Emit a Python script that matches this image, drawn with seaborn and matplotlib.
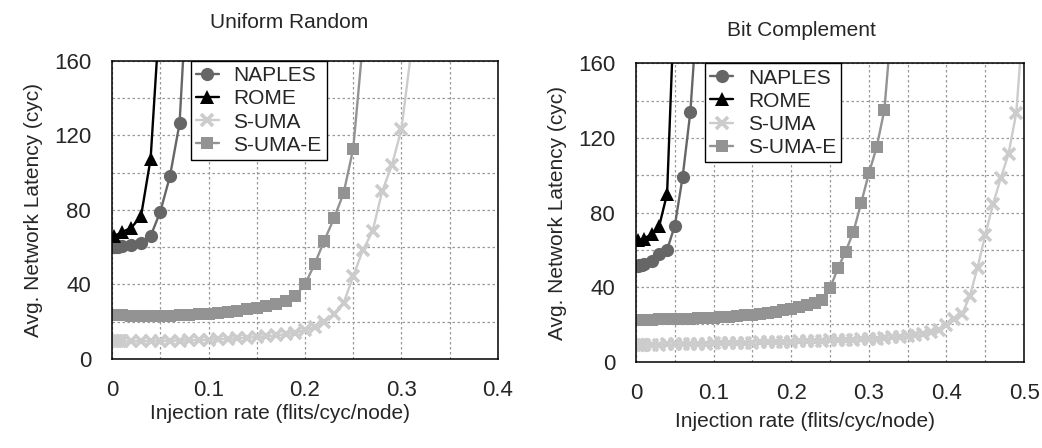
import matplotlib
matplotlib.use("Agg")
import matplotlib.pyplot as plt
import seaborn as sns

sns.set_style("white")
plt.rcParams['font.family'] = ['Liberation Sans', 'DejaVu Sans']

# injection rates (flits/cyc/node)
x_ur_naples = [0.001, 0.002, 0.004, 0.006, 0.008, 0.01, 0.02, 0.03, 0.04, 0.05, 0.06, 0.07, 0.08]
x_ur_rome = [0.002, 0.01, 0.02, 0.03, 0.04, 0.05]
x_ur_sumae = [0.001, 0.002, 0.004, 0.006, 0.008, 0.01, 0.02, 0.03, 0.04, 0.05, 0.06, 0.07, 0.08,
              0.09, 0.10, 0.11, 0.12, 0.13, 0.14, 0.15, 0.16, 0.17, 0.18, 0.19, 0.20, 0.21,
              0.22, 0.23, 0.24, 0.25, 0.26]
x_ur_suma = [0.001, 0.002, 0.004, 0.006, 0.008, 0.01, 0.02, 0.03, 0.04, 0.05, 0.06, 0.07, 0.08,
             0.09, 0.10, 0.11, 0.12, 0.13, 0.14, 0.15, 0.16, 0.17, 0.18, 0.19, 0.20, 0.21,
             0.22, 0.23, 0.24, 0.25, 0.26, 0.27, 0.28, 0.29, 0.30, 0.31]

# Uniform Random latencies (cyc)
ur_naples = [60.0, 60.0, 60.1, 60.2, 60.4, 60.6, 61.0, 62.5, 66.0, 79.0, 98.0, 126.5, 220.0]
ur_rome = [66.0, 68.0, 70.5, 76.5, 107.5, 190.0]
ur_sumae = [23.6, 23.6, 23.5, 23.5, 23.4, 23.4, 23.3, 23.2, 23.2, 23.2, 23.3, 23.4, 23.6,
            24.0, 24.4, 24.9, 25.4, 26.0, 26.6, 27.3, 28.2, 29.4, 31.0, 34.0, 40.0, 51.0,
            63.5, 75.5, 89.0, 113.0, 170.0]
ur_suma = [9.5, 9.5, 9.5, 9.5, 9.5, 9.5, 9.5, 9.6, 9.6, 9.7, 9.8, 9.9, 10.0,
           10.2, 10.4, 10.6, 10.8, 11.1, 11.4, 11.8, 12.2, 12.7, 13.3, 14.2, 15.4, 17.2,
           20.0, 24.0, 30.0, 44.5, 58.5, 68.5, 90.0, 104.0, 123.5, 165.0]

x_bc_naples = [0.001, 0.002, 0.004, 0.006, 0.008, 0.01, 0.02, 0.03, 0.04, 0.05, 0.06, 0.07, 0.08]
x_bc_rome = [0.002, 0.01, 0.02, 0.03, 0.04, 0.05]
x_bc_sumae = [0.001, 0.002, 0.004, 0.006, 0.008, 0.01, 0.02, 0.03, 0.04, 0.05, 0.06, 0.07, 0.08,
              0.09, 0.10, 0.11, 0.12, 0.13, 0.14, 0.15, 0.16, 0.17, 0.18, 0.19, 0.20, 0.21,
              0.22, 0.23, 0.24, 0.25, 0.26, 0.27, 0.28, 0.29, 0.30, 0.31, 0.32, 0.33]
x_bc_suma = [0.001, 0.002, 0.004, 0.006, 0.008, 0.01, 0.02, 0.03, 0.04, 0.05, 0.06, 0.07, 0.08,
             0.09, 0.10, 0.11, 0.12, 0.13, 0.14, 0.15, 0.16, 0.17, 0.18, 0.19, 0.20, 0.21,
             0.22, 0.23, 0.24, 0.25, 0.26, 0.27, 0.28, 0.29, 0.30, 0.31, 0.32, 0.33, 0.34,
             0.35, 0.36, 0.37, 0.38, 0.39, 0.40, 0.41, 0.42, 0.43, 0.44, 0.45, 0.46, 0.47,
             0.48, 0.49, 0.50]

# Bit Complement latencies (cyc)
bc_naples = [51.5, 51.5, 51.6, 51.8, 52.0, 52.3, 54.0, 57.5, 60.0, 73.0, 99.0, 134.0, 195.0]
bc_rome = [65.0, 66.0, 68.3, 73.0, 90.0, 200.0]
bc_sumae = [22.5, 22.5, 22.5, 22.5, 22.5, 22.5, 22.6, 22.7, 22.8, 22.9, 23.0, 23.1, 23.3,
            23.5, 23.7, 23.9, 24.1, 24.4, 24.8, 25.2, 25.7, 26.2, 26.8, 27.5, 28.3, 29.2,
            30.3, 31.7, 33.3, 39.5, 50.0, 59.0, 69.5, 85.0, 101.0, 115.0, 135.0, 185.0]
bc_suma = [9.0, 9.0, 9.0, 9.0, 9.0, 9.0, 9.1, 9.2, 9.3, 9.3, 9.4, 9.5, 9.6,
           9.7, 9.8, 9.9, 10.0, 10.1, 10.2, 10.3, 10.4, 10.5, 10.6, 10.7, 10.8, 10.9,
           11.0, 11.1, 11.2, 11.4, 11.5, 11.7, 11.8, 12.0, 12.2, 12.4, 12.7, 13.0, 13.3,
           13.7, 14.2, 14.8, 15.7, 17.2, 19.7, 22.7, 25.5, 35.0, 50.5, 68.0, 84.5, 98.5,
           111.5, 133.5, 190.0]

y_ticks = [0, 40, 80, 120, 160]

styles = {
    'NAPLES': dict(color='#666666', marker='o', markersize=9.5),
    'ROME': dict(color='black', marker='^', markersize=9.5),
    'S-UMA': dict(color='#cccccc', marker='x', markersize=8.5, markeredgewidth=2.6),
    'S-UMA-E': dict(color='#939393', marker='s', markersize=8.5),
}


def draw(ax, series, xmax, xticks, title, title_pad, title_x, xlabel_y, legend_x):
    for name, xs, ys in series:
        st = dict(styles[name])
        st.setdefault('markeredgewidth', 0)
        sns.lineplot(x=xs, y=ys, ax=ax, label=name, linewidth=1.7,
                     markeredgecolor=st['color'], estimator=None, sort=False, **st)
    ax.set_xlim(0, xmax)
    ax.set_ylim(0, 160)
    ax.set_xticks(xticks)
    ax.set_xticklabels(['0' if t == 0 else '%g' % t for t in xticks])
    ax.set_yticks(y_ticks)
    ax.set_xticks([t + 0.05 for t in xticks[:-1]], minor=True)
    ax.set_yticks([20, 60, 100, 140], minor=True)
    ax.grid(True, which='both', color='#999999', linestyle=(0, (2, 2)), linewidth=0.9)
    ax.tick_params(axis='both', which='major', direction='inout', length=6,
                   width=1, labelsize=16, pad=12, color='black')
    ax.tick_params(axis='both', which='minor', length=0)
    for s in ax.spines.values():
        s.set_color('black')
        s.set_linewidth(1.1)
    ax.set_title(title, fontsize=15, pad=title_pad, x=title_x)
    ax.set_xlabel('Injection rate (flits/cyc/node)', fontsize=15)
    ax.xaxis.set_label_coords(0.435, xlabel_y)
    ax.set_ylabel('Avg. Network Latency (cyc)', fontsize=15, labelpad=8)
    leg = ax.legend(loc='upper left', bbox_to_anchor=(legend_x, 1.0), borderaxespad=0,
                    frameon=True, fancybox=False, edgecolor='black', framealpha=1,
                    handlelength=1.1, handletextpad=0.7, labelspacing=0.2,
                    borderpad=0.25, fontsize=15)
    leg.get_frame().set_linewidth(1.0)


fig = plt.figure(figsize=(10.42, 4.48), dpi=100)
ax1 = fig.add_axes([0.1075, 0.1987, 0.3704, 0.6652])
ax2 = fig.add_axes([0.6104, 0.1926, 0.3724, 0.6661])

draw(ax1, [('NAPLES', x_ur_naples, ur_naples), ('ROME', x_ur_rome, ur_rome),
           ('S-UMA', x_ur_suma, ur_suma), ('S-UMA-E', x_ur_sumae, ur_sumae)],
     0.4, [0, 0.1, 0.2, 0.3, 0.4], 'Uniform Random', 24, 0.46, -0.152, 0.204)
draw(ax2, [('NAPLES', x_bc_naples, bc_naples), ('ROME', x_bc_rome, bc_rome),
           ('S-UMA', x_bc_suma, bc_suma), ('S-UMA-E', x_bc_sumae, bc_sumae)],
     0.5, [0, 0.1, 0.2, 0.3, 0.4, 0.5], 'Bit Complement', 20, 0.425, -0.17, 0.178)

fig.savefig('out.png', dpi=100)
